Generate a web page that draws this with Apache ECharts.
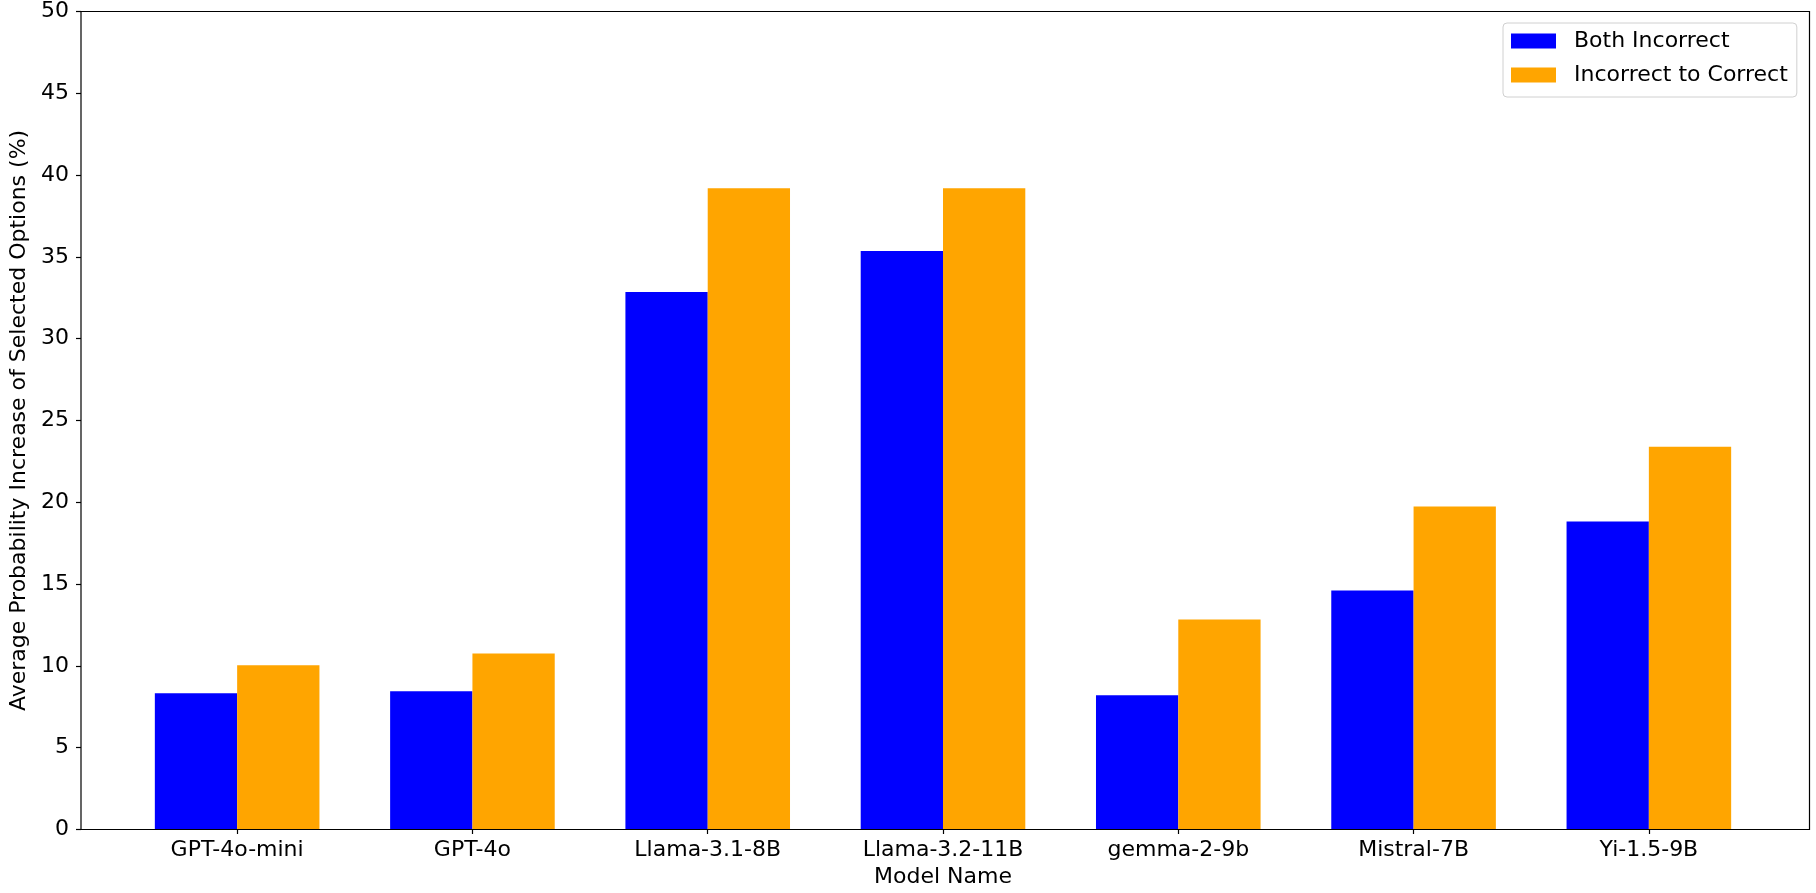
<!DOCTYPE html>
<html>
<head>
<meta charset="utf-8">
<script src="https://cdn.jsdelivr.net/npm/echarts@6/dist/echarts.min.js"></script>
<style>html,body{margin:0;padding:0;background:#fff}#c{width:1816px;height:893px}</style>
</head>
<body>
<div id="c"></div>
<script>
const categories = ['GPT-4o-mini', 'GPT-4o', 'Llama-3.1-8B', 'Llama-3.2-11B', 'gemma-2-9b', 'Mistral-7B', 'Yi-1.5-9B'];
const bothIncorrect = [8.30, 8.42, 32.85, 35.35, 8.18, 14.59, 18.80];
const incorrectToCorrect = [10.01, 10.74, 39.19, 39.19, 12.82, 19.72, 23.38];
const yTicks = { min: 0, max: 50, interval: 5 };

const FONT = 'DejaVu Sans';
const chart = echarts.init(document.getElementById('c'), null, { renderer: 'canvas' });
chart.setOption({
  animation: false,
  backgroundColor: '#ffffff',
  textStyle: { fontFamily: FONT, color: '#000' },
  grid: [
    { left: 76.5, right: 6.5, top: 11.5, bottom: 63.5, show: true, borderColor: '#000', borderWidth: 1.2, backgroundColor: 'transparent' },
    { left: 119.5, right: 49.5, top: 11.5, bottom: 63.5 }
  ],
  legend: {
    data: ['Both Incorrect', 'Incorrect to Correct'],
    orient: 'vertical',
    left: 1503, top: 23,
    itemWidth: 45, itemHeight: 15, itemGap: 8,
    padding: [5, 9, 9, 8],
    borderColor: '#d0d0d0', borderWidth: 1, borderRadius: 4,
    backgroundColor: '#fff',
    icon: 'rect',
    textStyle: { fontFamily: FONT, fontSize: 22, color: '#000', lineHeight: 26, padding: [0, 0, 0, 13] }
  },
  xAxis: [
    { gridIndex: 0, type: 'value', min: 0, max: 1, show: false },
    {
      gridIndex: 1, type: 'category', data: categories,
      name: 'Model Name', nameLocation: 'middle', nameGap: 37,
      nameTextStyle: { fontFamily: FONT, fontSize: 22, color: '#000' },
      axisLine: { show: false },
      axisTick: { show: true, alignWithLabel: true, length: 5, lineStyle: { color: '#000', width: 1.2 } },
      axisLabel: { fontFamily: FONT, fontSize: 22, color: '#000', margin: 10 },
      splitLine: { show: false }
    }
  ],
  yAxis: [
    {
      gridIndex: 0, type: 'value', min: yTicks.min, max: yTicks.max, interval: yTicks.interval,
      name: 'Average Probability Increase of Selected Options (%)', nameLocation: 'middle', nameGap: 51,
      nameTextStyle: { fontFamily: FONT, fontSize: 22, color: '#000' },
      axisLine: { show: false },
      axisTick: { show: true, length: 5, lineStyle: { color: '#000', width: 1.2 } },
      axisLabel: { fontFamily: FONT, fontSize: 22, color: '#000', margin: 12 },
      splitLine: { show: false }
    },
    { gridIndex: 1, type: 'value', min: yTicks.min, max: yTicks.max, interval: yTicks.interval, show: false }
  ],
  series: [
    { name: 'Both Incorrect', type: 'bar', xAxisIndex: 1, yAxisIndex: 1, data: bothIncorrect, barWidth: 82.3, barGap: '0%', itemStyle: { color: '#0000ff' } },
    { name: 'Incorrect to Correct', type: 'bar', xAxisIndex: 1, yAxisIndex: 1, data: incorrectToCorrect, barWidth: 82.3, barGap: '0%', itemStyle: { color: '#ffa500' } }
  ]
});
</script>
</body>
</html>
